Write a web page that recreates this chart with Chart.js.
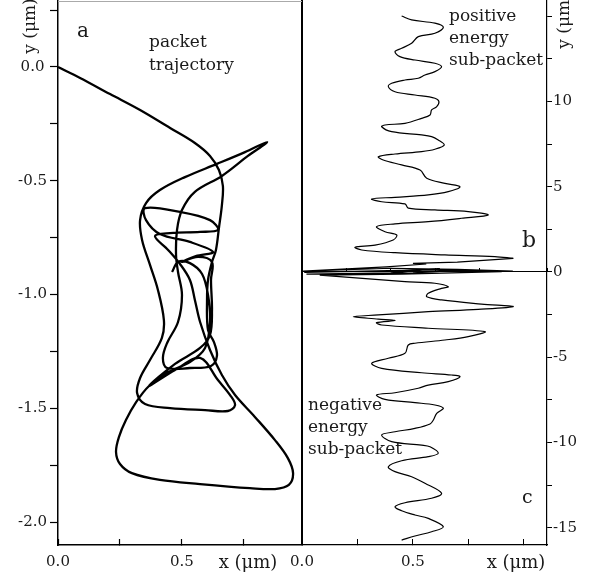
<!DOCTYPE html>
<html>
<head>
<meta charset="utf-8">
<script src="https://cdn.jsdelivr.net/npm/chart.js@4.4.0/dist/chart.umd.min.js"></script>
<style>
  html, body { margin: 0; padding: 0; background: #fff; }
  #contenedor { position: relative; width: 601px; height: 578px; overflow: hidden; }
  #graficaA { position: absolute; left: 0; top: 0; }
  #graficaBC { position: absolute; left: 280px; top: 0; }
</style>
</head>
<body>
<div id="contenedor">
  <canvas id="graficaA" width="310" height="578"></canvas>
  <canvas id="graficaBC" width="321" height="578"></canvas>
</div>
<script>
// panel a: trayectoria del paquete (x, y en micras)
const trayX = [0, 0.089, 0.210, 0.331, 0.452, 0.552, 0.613, 0.649, 0.665, 0.661, 0.649, 0.637, 0.621, 0.605, 0.601, 0.605, 0.629, 0.641, 0.617, 0.532, 0.440, 0.423, 0.440, 0.484, 0.500, 0.484, 0.476, 0.480, 0.500, 0.552, 0.661, 0.766, 0.843,
  0.754, 0.641, 0.512, 0.411, 0.355, 0.331, 0.339, 0.371, 0.403, 0.427, 0.419, 0.371, 0.331, 0.319, 0.351, 0.452, 0.593, 0.685, 0.714, 0.694, 0.645,
  0.573, 0.472, 0.367, 0.472, 0.573, 0.613, 0.621, 0.617, 0.621, 0.565, 0.500, 0.556, 0.625, 0.532, 0.411, 0.355, 0.351, 0.492, 0.613, 0.645, 0.573, 0.452, 0.391, 0.444, 0.492, 0.532, 0.552, 0.573, 0.613, 0.661, 0.714, 0.794, 0.875, 0.927, 0.948, 0.931, 0.875, 0.774, 0.573, 0.411, 0.298, 0.250, 0.234, 0.246, 0.274, 0.315, 0.367, 0.444, 0.532, 0.593, 0.613, 0.605, 0.581, 0.532, 0.484, 0.460];
const trayY = [0, -0.048, -0.119, -0.189, -0.268, -0.334, -0.391, -0.453, -0.523, -0.607, -0.708, -0.804, -0.857, -0.936, -1.024, -1.156, -1.209, -1.270, -1.314, -1.323, -1.323, -1.279, -1.213, -1.121, -1.002, -0.901, -0.826, -0.716, -0.629, -0.549, -0.479, -0.391, -0.330,
  -0.374, -0.426, -0.484, -0.541, -0.598, -0.673, -0.760, -0.870, -0.980, -1.112, -1.191, -1.288, -1.367, -1.433, -1.481, -1.499, -1.508, -1.512, -1.486, -1.442, -1.376,
  -1.279, -1.332, -1.402, -1.305, -1.235, -1.178, -1.068, -0.936, -0.857, -0.835, -0.857, -0.831, -0.813, -0.769, -0.734, -0.673, -0.620, -0.637, -0.673, -0.716, -0.725, -0.730, -0.743, -0.804, -0.866, -0.936, -1.024, -1.121, -1.244, -1.354, -1.442, -1.538, -1.640, -1.719, -1.785, -1.837, -1.855, -1.851, -1.833, -1.815, -1.785, -1.745, -1.692, -1.626, -1.552, -1.473, -1.402, -1.341, -1.297, -1.235, -1.121, -1.002, -0.910, -0.862, -0.857, -0.901];

// panel b: sub-paquete de energia positiva
const posX = [0.449, 0.494, 0.599, 0.637, 0.599, 0.524, 0.494, 0.449, 0.419, 0.441, 0.509, 0.599, 0.629, 0.599, 0.554, 0.524, 0.464, 0.404, 0.389, 0.419, 0.509, 0.599, 0.617, 0.607, 0.584, 0.577, 0.539, 0.464, 0.374, 0.359, 0.404, 0.539, 0.584, 0.614, 0.641, 0.599, 0.539, 0.419, 0.344, 0.366, 0.449, 0.532, 0.562, 0.644, 0.712, 0.659, 0.569, 0.419, 0.314, 0.359, 0.464, 0.479, 0.599, 0.749, 0.839, 0.719, 0.569, 0.419, 0.336, 0.374, 0.427, 0.411, 0.329, 0.239, 0.269, 0.419, 0.644, 0.869, 0.952];
const posY = [15.01, 14.78, 14.59, 14.35, 14.0, 13.8, 13.41, 13.12, 12.92, 12.63, 12.43, 12.24, 12.04, 11.75, 11.55, 11.36, 11.26, 11.07, 10.87, 10.57, 10.38, 10.19, 9.99, 9.70, 9.50, 9.21, 9.01, 8.72, 8.62, 8.52, 8.23, 8.04, 7.94, 7.74, 7.45, 7.20, 7.06, 6.92, 6.76, 6.57, 6.28, 5.98, 5.50, 5.20, 5.00, 4.71, 4.52, 4.38, 4.28, 4.12, 3.99, 3.74, 3.64, 3.54, 3.34, 3.15, 2.95, 2.82, 2.66, 2.36, 2.17, 1.88, 1.58, 1.45, 1.29, 1.13, 1.00, 0.90, 0.80];

// enredo cerca de y = 0
const nucleoX = [0.952, 0.70, 0.50, 0.56, 0.38, 0.005, 0.40, 0.70, 0.95, 0.55, 0.01, 0.45, 0.62, 0.40, 0.02, 0.50, 0.68, 0.90, 0.45, 0.08, 0.464];
const nucleoY = [0.80, 0.58, 0.50, 0.47, 0.30, 0.05, 0.22, 0.15, 0.05, 0.12, -0.02, 0.10, 0.20, -0.05, -0.12, -0.05, 0.08, 0.02, -0.12, -0.18, -0.57];

// panel c: sub-paquete de energia negativa
const negX = [0.464, 0.599, 0.659, 0.629, 0.569, 0.562, 0.629, 0.809, 0.952, 0.794, 0.569, 0.344, 0.231, 0.344, 0.419, 0.336, 0.359, 0.569, 0.824, 0.749, 0.644, 0.509, 0.479, 0.464, 0.389, 0.314, 0.359, 0.539, 0.674, 0.712, 0.659, 0.569, 0.524, 0.419, 0.336, 0.374, 0.509, 0.599, 0.637, 0.607, 0.592, 0.577, 0.509, 0.419, 0.359, 0.404, 0.539, 0.577, 0.614, 0.569, 0.449, 0.389, 0.419, 0.494, 0.554, 0.629, 0.584, 0.464, 0.419, 0.449, 0.509, 0.569, 0.637, 0.584, 0.509, 0.449];
const negY = [-0.57, -0.66, -0.86, -0.96, -1.25, -1.45, -1.64, -1.88, -2.03, -2.19, -2.33, -2.52, -2.62, -2.76, -2.85, -2.97, -3.11, -3.30, -3.50, -3.79, -3.99, -4.18, -4.28, -4.77, -5.06, -5.35, -5.65, -5.91, -6.04, -6.14, -6.43, -6.63, -6.82, -7.08, -7.21, -7.47, -7.66, -7.80, -7.99, -8.29, -8.68, -8.91, -9.17, -9.37, -9.56, -9.95, -10.15, -10.25, -10.63, -10.83, -11.07, -11.42, -11.71, -12.01, -12.39, -12.98, -13.27, -13.53, -13.77, -14.0, -14.25, -14.45, -14.94, -15.23, -15.48, -15.72];

// ejes
const rangoXa = [0, 0.984];
const rangoYa = [-2.101, 0.290];
const rangoXb = [0, 1.104];
const rangoYb = [-16.01, 15.95];
const etiquetasXb = [0, 0.5];
const ultimaEtiquetaYb = 10;

const fuente = 'DejaVu Serif';
Chart.defaults.font.family = fuente;
Chart.defaults.font.size = 15;
Chart.defaults.color = '#1a1a1a';

const pares = (xs, ys) => xs.map((x, i) => ({ x: x, y: ys[i] }));
const casi = (v, m) => Math.abs(v / m - Math.round(v / m)) < 1e-6;

function texto(ctx, t, x, y, size, align, base) {
    ctx.font = size + 'px "' + fuente + '"';
    ctx.fillStyle = '#1a1a1a';
    ctx.textAlign = align || 'left';
    ctx.textBaseline = base || 'alphabetic';
    ctx.fillText(t, x, y);
}
function textoVertical(ctx, t, x, y, size) {
    ctx.save();
    ctx.translate(x, y);
    ctx.rotate(-Math.PI / 2);
    texto(ctx, t, 0, 0, size, 'center', 'middle');
    ctx.restore();
}

// marco y textos del panel a
const marcoA = {
    id: 'marcoA',
    afterDraw(chart) {
        const ctx = chart.ctx;
        const a = chart.chartArea;
        ctx.save();
        ctx.strokeStyle = '#000';
        ctx.lineWidth = 2;
        ctx.beginPath(); ctx.moveTo(a.right, 0); ctx.lineTo(a.right, a.bottom); ctx.stroke();
        ctx.strokeStyle = '#aaa';
        ctx.lineWidth = 1;
        ctx.beginPath(); ctx.moveTo(a.left, a.top + 0.5); ctx.lineTo(a.right, a.top + 0.5); ctx.stroke();
        texto(ctx, 'a', 77, 37, 20);
        texto(ctx, 'packet', 149, 47, 17);
        texto(ctx, 'trajectory', 149, 70, 17);
        texto(ctx, 'x (\u03bcm)', 248, 563, 18, 'center', 'middle');
        textoVertical(ctx, 'y (\u03bcm)', 31, 26, 17);
        ctx.restore();
    }
};

// textos de los paneles b y c
const marcoBC = {
    id: 'marcoBC',
    afterDraw(chart) {
        const ctx = chart.ctx;
        ctx.save();
        texto(ctx, 'positive', 169, 21, 17);
        texto(ctx, 'energy', 169, 43, 17);
        texto(ctx, 'sub-packet', 169, 65, 17);
        texto(ctx, 'negative', 28, 410, 17);
        texto(ctx, 'energy', 28, 432, 17);
        texto(ctx, 'sub-packet', 28, 454, 17);
        texto(ctx, 'b', 242, 247, 22);
        texto(ctx, 'c', 242, 503, 19);
        texto(ctx, 'x (\u03bcm)', 236, 563, 18, 'center', 'middle');
        textoVertical(ctx, 'y (\u03bcm)', 285, 21, 17);
        ctx.restore();
    }
};

const linea = (xs, ys, ancho, tension) => ({
    data: pares(xs, ys),
    showLine: true,
    borderColor: '#000',
    borderWidth: ancho,
    pointRadius: 0,
    tension: tension,
    fill: false,
    xAxisID: 'x',
    yAxisID: 'y'
});

var GraficoA = new Chart(document.getElementById('graficaA'), {
    type: 'scatter',
    data: { datasets: [linea(trayX, trayY, 2.3, 0.35)] },
    options: {
        responsive: false,
        animation: false,
        layout: { padding: { left: 0, right: 8, top: 1, bottom: 0 } },
        plugins: { legend: { display: false }, tooltip: { enabled: false } },
        scales: {
            x: {
                type: 'linear', position: 'bottom', min: rangoXa[0], max: rangoXa[1],
                border: { color: '#000', width: 1.5 },
                grid: { drawOnChartArea: false, tickLength: -6, color: '#000', tickWidth: 1.2 },
                ticks: { stepSize: 0.25, includeBounds: false, autoSkip: false, maxRotation: 0, padding: 14,
                         callback: v => casi(v, 0.5) ? v.toFixed(1) : '' },
                afterFit: s => { s.height = 33; s.paddingLeft = 0; s.paddingRight = 0; }
            },
            y: {
                type: 'linear', position: 'left', min: rangoYa[0], max: rangoYa[1],
                border: { color: '#000', width: 1.5 },
                grid: { drawOnChartArea: false, tickLength: 8, color: '#000', tickWidth: 1.2 },
                ticks: { stepSize: 0.25, includeBounds: false, autoSkip: false, padding: 3, crossAlign: 'center',
                         callback: v => casi(v, 0.5) ? v.toFixed(1) : '' },
                afterFit: s => { s.width = 58; s.paddingTop = 0; s.paddingBottom = 0; }
            }
        }
    },
    plugins: [marcoA]
});

var GraficoBC = new Chart(document.getElementById('graficaBC'), {
    type: 'scatter',
    data: { datasets: [
        linea(posX, posY, 1.2, 0.35),
        linea(nucleoX, nucleoY, 1.2, 0),
        linea(negX, negY, 1.2, 0.35)
    ] },
    options: {
        responsive: false,
        animation: false,
        layout: { padding: { left: 22, right: 0, top: 0, bottom: 0 } },
        plugins: { legend: { display: false }, tooltip: { enabled: false } },
        scales: {
            x: {
                type: 'linear', position: 'bottom', min: rangoXb[0], max: rangoXb[1],
                border: { color: '#000', width: 1.2 },
                grid: { drawOnChartArea: false, tickLength: -6, color: '#000' },
                ticks: { stepSize: 0.25, includeBounds: false, autoSkip: false, maxRotation: 0, padding: 14,
                         callback: v => etiquetasXb.includes(v) ? v.toFixed(1) : '' },
                afterFit: s => { s.height = 33; s.paddingLeft = 0; s.paddingRight = 0; }
            },
            cero: {
                type: 'linear', axis: 'x', position: { y: 0 }, min: rangoXb[0], max: rangoXb[1],
                border: { color: '#000', width: 1 },
                grid: { drawOnChartArea: false, tickLength: -4, color: '#000' },
                ticks: { display: false, stepSize: 0.2 }
            },
            y: {
                type: 'linear', position: 'right', min: rangoYb[0], max: rangoYb[1],
                border: { color: '#000', width: 1.2 },
                grid: { drawOnChartArea: false, tickLength: 5, color: '#000' },
                ticks: { stepSize: 2.5, includeBounds: false, autoSkip: false, padding: 1,
                         callback: v => (casi(v, 5) && v <= ultimaEtiquetaYb) ? String(v) : '' },
                afterFit: s => { s.width = 54; s.paddingTop = 0; s.paddingBottom = 0; }
            }
        }
    },
    plugins: [marcoBC]
});
</script>
</body>
</html>
